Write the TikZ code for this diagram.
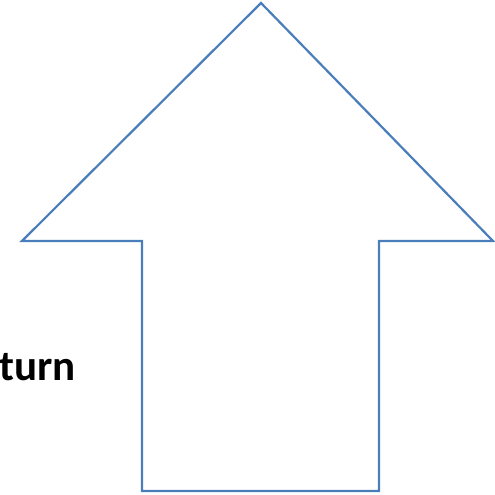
\documentclass[tikz,border=0pt]{standalone}
\usepackage{fontspec}
\setmainfont{Carlito}
\definecolor{arrowblue}{RGB}{74,126,187}
\tikzset{
  outline/.style={draw=arrowblue, line width=2.2bp, line join=miter},
  label/.style={font=\fontsize{43bp}{50bp}\selectfont\bfseries, inner sep=0pt, anchor=base east}
}
\begin{document}
\begin{tikzpicture}[x=1bp,y=-1bp]
\useasboundingbox (0,0) rectangle (495,495);
\draw[outline] (261,3) -- (493,241) -- (379,241) -- (379,491) -- (142,491) -- (142,241) -- (22,241) -- cycle;
\node[label] (ret) at (76,380) {Return};
\end{tikzpicture}
\end{document}
